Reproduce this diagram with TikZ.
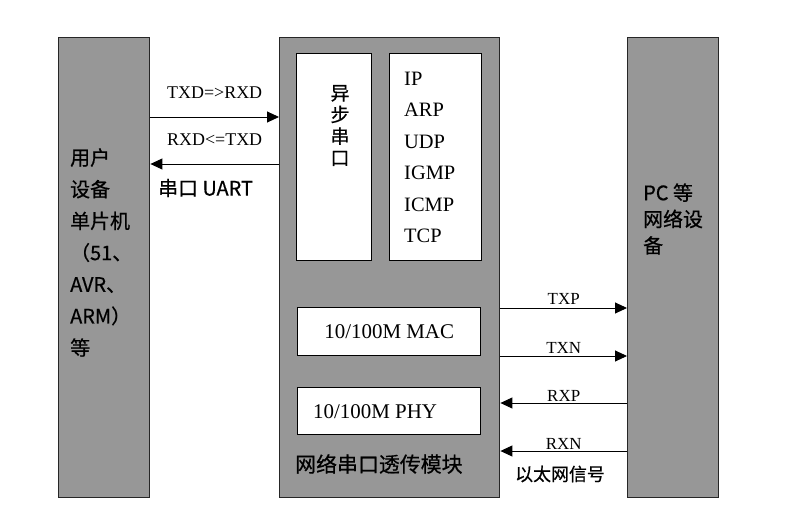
\documentclass[tikz,border=0pt]{standalone}
\usepackage{fontspec}
\setmainfont{Liberation Serif}
\newfontfamily\cjk[FakeBold=0.6]{Noto Sans CJK SC}
\usepackage{tikz}
\usetikzlibrary{arrows.meta,positioning}
\definecolor{blockgray}{RGB}{151,151,151}

\begin{document}
\begin{tikzpicture}[x=1bp,y=-1bp]
    \tikzset{block/.style={draw=black!85, line width=1.4bp, fill=blockgray, anchor=north west, inner sep=0},
        part/.style={draw=black, line width=1.4bp, fill=white, anchor=north west, inner sep=0},
        sig/.style={line width=0.9bp, -{Triangle[length=12bp,width=11bp]}},
        lbl/.style={font=\fontsize{18}{18}\selectfont, anchor=base, inner sep=0},
        cn/.style={font=\cjk\fontsize{20}{31.8}\selectfont, align=left, inner sep=0},}
    \useasboundingbox (0,0) rectangle (790,526);
    \node[block, minimum width=91bp, minimum height=460bp] (user) at (58,37) {};
    \node[block, minimum width=220bp, minimum height=460bp] (module) at (279,37) {};
    \node[block, minimum width=91bp, minimum height=460bp] (pc) at (627,37) {};
    \node[part, minimum width=75bp, minimum height=207bp] (uart) at (296,53) {};
    \node[part, minimum width=92bp, minimum height=207bp] (proto) at (389,53) {};
    \node[part, minimum width=183bp, minimum height=48bp, font=\fontsize{21}{21}\selectfont] (mac) at (297,307) {10/100M MAC};
    \node[part, minimum width=183bp, minimum height=47bp] (phy) at (297,387) {};
    \node[font=\fontsize{21}{21}\selectfont, inner sep=0, right=16bp of phy.west] (phytxt) {10/100M PHY};
    \node[font=\fontsize{20.5}{31.6}\selectfont, align=left, inner sep=0, right=15bp of proto.west] (prototxt) {IP\\ARP\\UDP\\IGMP\\ICMP\\TCP};
    \node[cn, align=center, font=\cjk\fontsize{19}{21.7}\selectfont] (uarttxt) at (340,125.5) {异\\步\\串\\口};
    \node[cn, anchor=west] (usertxt) at (70,252.5) {用户\\设备\\单片机\\（51、\\AVR、\\ARM）\\等};
    \node[cn, anchor=west, font=\cjk\fontsize{20}{26.5}\selectfont] (pctxt) at (643,219) {PC 等\\网络设\\备};
    \node[cn, anchor=west, font=\cjk\fontsize{21}{21}\selectfont] (modtxt) at (295,464) {网络串口透传模块};
    \node[cn, anchor=west] (serial) at (158,188) {串口 UART};
    \node[cn, font=\cjk\fontsize{18}{18}\selectfont] (eth) at (560,474) {以太网信号};

    \draw[sig] (user.east |- 0,117) -- (module.west |- 0,117) node[lbl, midway, yshift=18bp] {TXD=>RXD};
    \draw[sig] (module.west |- 0,164) -- (user.east |- 0,164) node[lbl, midway, yshift=18bp] {RXD<=TXD};
    \draw[sig] (module.east |- 0,308) -- (pc.west |- 0,308) node[lbl, midway, yshift=3bp, font=\fontsize{17}{17}\selectfont] {TXP};
    \draw[sig] (module.east |- 0,356) -- (pc.west |- 0,356) node[lbl, midway, yshift=3bp, font=\fontsize{17}{17}\selectfont] {TXN};
    \draw[sig] (pc.west |- 0,403) -- (module.east |- 0,403) node[lbl, midway, yshift=2bp, font=\fontsize{17}{17}\selectfont] {RXP};
    \draw[sig] (pc.west |- 0,451) -- (module.east |- 0,451) node[lbl, midway, yshift=2bp, font=\fontsize{17}{17}\selectfont] {RXN};
\end{tikzpicture}
\end{document}
